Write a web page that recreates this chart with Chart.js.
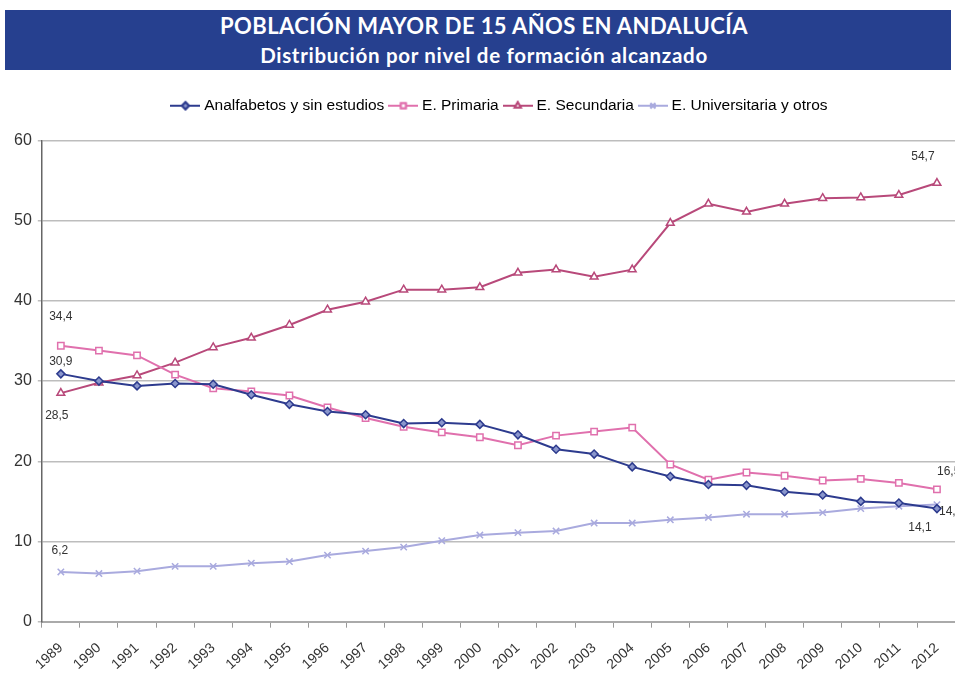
<html>
   <head>
      <script src="https://cdn.jsdelivr.net/npm/chart.js@4.4.0/dist/chart.umd.min.js"></script>
   </head>
   <style>
      html,
      body {
         margin: 0;
         background: #fff;
         width: 955px;
         height: 674px;
         overflow: hidden;
         position: relative;
      }

      .banner {
         position: absolute;
         left: 5px;
         top: 10px;
         width: 946px;
         height: 60px;
         background: #26408f;
         color: #fff;
         font-family: Lato, "Open Sans", sans-serif;
         font-weight: bold;
         text-align: center;
         box-sizing: border-box;
         padding-left: 12px;
      }

      .banner .t1 {
         font-size: 22px;
         letter-spacing: 0.4px;
         line-height: 24px;
         padding-top: 4px;
      }

      .banner .t2 {
         font-size: 20.5px;
         letter-spacing: 0.7px;
         line-height: 24px;
         padding-top: 5px;
      }

      #myChart {
         position: absolute;
         left: 0;
         top: 80px;
         width: 998px;
         height: 594px;
      }
   </style>

   <body>
      <div class="banner">
         <div class="t1">POBLACIÓN MAYOR DE 15 AÑOS EN ANDALUCÍA</div>
         <div class="t2">Distribución por nivel de formación alcanzado</div>
      </div>
      <canvas id="myChart" width="998" height="594"></canvas>
   </body>
   <script>
      const years = ["1989", "1990", "1991", "1992", "1993", "1994", "1995", "1996", "1997", "1998", "1999", "2000",
         "2001", "2002", "2003", "2004", "2005", "2006", "2007", "2008", "2009", "2010", "2011", "2012"];

      const analfabetos = [30.9, 30.0, 29.4, 29.7, 29.6, 28.3, 27.1, 26.2, 25.8, 24.7, 24.8, 24.6,
         23.3, 21.5, 20.9, 19.3, 18.1, 17.1, 17.0, 16.2, 15.8, 15.0, 14.8, 14.1];
      const primaria = [34.4, 33.8, 33.2, 30.8, 29.1, 28.7, 28.2, 26.7, 25.4, 24.3, 23.6, 23.0,
         22.0, 23.2, 23.7, 24.2, 19.6, 17.7, 18.6, 18.2, 17.6, 17.8, 17.3, 16.5];
      const secundaria = [28.5, 29.8, 30.7, 32.3, 34.2, 35.4, 37.0, 38.9, 39.9, 41.4, 41.4, 41.7,
         43.5, 43.9, 43.0, 43.9, 49.7, 52.1, 51.1, 52.1, 52.8, 52.9, 53.2, 54.7];
      const universitaria = [6.2, 6.0, 6.3, 6.9, 6.9, 7.3, 7.5, 8.3, 8.8, 9.3, 10.1, 10.8,
         11.1, 11.3, 12.3, 12.3, 12.7, 13.0, 13.4, 13.4, 13.6, 14.1, 14.4, 14.6];

      // which values get a number next to them: [dataset, index, dx, dy, align]
      const valueLabels = [
         [1, 0, 0, -29, "center"],
         [0, 0, 0, -12, "center"],
         [2, 0, -4, 23, "center"],
         [3, 0, -1, -21, "center"],
         [2, 23, -14, -26, "center"],
         [1, 23, 0, -18, "left"],
         [3, 23, 2, 7, "left"],
         [0, 23, -17, 19, "center"],
      ];

      // little line + marker picture for the legend
      function legendIcon(color, style, fill) {
         const c = document.createElement("canvas");
         c.width = 30;
         c.height = 12;
         const ctx = c.getContext("2d");
         ctx.strokeStyle = color;
         ctx.lineWidth = 2;
         ctx.beginPath();
         ctx.moveTo(0, 6);
         ctx.lineTo(30, 6);
         ctx.stroke();
         Chart.helpers.drawPoint(ctx, { pointStyle: style, radius: 3.5, borderWidth: 1.5 }, 15, 6);
         ctx.fillStyle = fill;
         ctx.fill();
         ctx.stroke();
         return c;
      }

      const valueLabelPlugin = {
         id: "valueLabels",
         afterDatasetsDraw(chart) {
            const ctx = chart.ctx;
            ctx.save();
            ctx.font = "12px 'Liberation Sans', Arial, sans-serif";
            ctx.fillStyle = "#333";
            ctx.textBaseline = "middle";
            valueLabels.forEach(([ds, i, dx, dy, align]) => {
               const v = chart.data.datasets[ds].data[i];
               const x = chart.scales.x.getPixelForValue(i);
               const y = chart.scales.y.getPixelForValue(v);
               ctx.textAlign = align;
               ctx.fillText(v.toFixed(1).replace(".", ","), x + dx, y + dy);
            });
            ctx.restore();
         },
      };

      // extra room under the legend, and nudge it to the right a bit
      const legendSpace = {
         id: "legendSpace",
         beforeInit(chart) {
            const fit = chart.legend.fit;
            chart.legend.fit = function () {
               fit.bind(chart.legend)();
               this.height += 17;
            };
         },
         afterLayout(chart) {
            chart.legend.left += 19;
            chart.legend.right += 19;
         },
      };

      const font = "'Liberation Sans', Arial, sans-serif";

      const chartData = {
         labels: years,
         datasets: [
            {
               label: "Analfabetos y sin estudios",
               data: analfabetos,
               borderColor: "#2d3b8e",
               backgroundColor: "#8a96cc",
               pointStyle: "rectRot",
               pointRadius: 4,
               legendIcon: legendIcon("#2d3b8e", "rectRot", "#8a96cc"),
            },
            {
               label: "E. Primaria",
               data: primaria,
               borderColor: "#e070ad",
               backgroundColor: "#ffffff",
               pointStyle: "rect",
               pointRadius: 4.5,
               legendIcon: legendIcon("#e070ad", "rect", "#ffffff"),
            },
            {
               label: "E. Secundaria",
               data: secundaria,
               borderColor: "#b8497a",
               backgroundColor: "#ffffff",
               pointStyle: "triangle",
               pointRadius: 4.5,
               legendIcon: legendIcon("#b8497a", "triangle", "#ffffff"),
            },
            {
               label: "E. Universitaria y otros",
               data: universitaria,
               borderColor: "#a9aade",
               backgroundColor: "#a9aade",
               pointStyle: "crossRot",
               pointRadius: 4.5,
               legendIcon: legendIcon("#a9aade", "crossRot", "#ffffff"),
            },
         ],
      };

      const config = {
         type: "line",
         data: chartData,
         options: {
            responsive: false,
            animation: false,
            elements: {
               line: { borderWidth: 2, tension: 0 },
               point: { borderWidth: 1.5 },
            },
            layout: {
               padding: { top: 10, left: 8, right: 42, bottom: -11 },
            },
            plugins: {
               tooltip: { enabled: false },
               legend: {
                  position: "top",
                  labels: {
                     usePointStyle: true,
                     pointStyleWidth: 22,
                     color: "#222",
                     font: { family: font, size: 15.5 },
                     padding: 8,
                     generateLabels(chart) {
                        return chart.data.datasets.map((d, i) => ({
                           text: d.label,
                           pointStyle: d.legendIcon,
                           fillStyle: d.backgroundColor,
                           strokeStyle: d.borderColor,
                           lineWidth: 0,
                           datasetIndex: i,
                           hidden: false,
                        }));
                     },
                  },
               },
            },
            scales: {
               x: {
                  offset: true,
                  grid: {
                     offset: true,
                     drawOnChartArea: false,
                     drawTicks: true,
                     tickLength: 6,
                     color: "#999",
                  },
                  border: { color: "#aaa", width: 2 },
                  ticks: {
                     minRotation: 42,
                     maxRotation: 42,
                     autoSkip: false,
                     color: "#333",
                     font: { family: font, size: 14 },
                     padding: 12,
                  },
               },
               y: {
                  min: 0,
                  max: 60,
                  ticks: {
                     stepSize: 10,
                     color: "#333",
                     font: { family: font, size: 16 },
                     padding: 6,
                  },
                  grid: {
                     color: "#bdbdbd",
                     lineWidth: 1.5,
                     tickLength: 4,
                  },
                  border: { color: "#666", width: 1.5 },
               },
            },
         },
         plugins: [valueLabelPlugin, legendSpace],
      };

      let myChart = new Chart(document.getElementById("myChart"), config);
   </script>
</html>
